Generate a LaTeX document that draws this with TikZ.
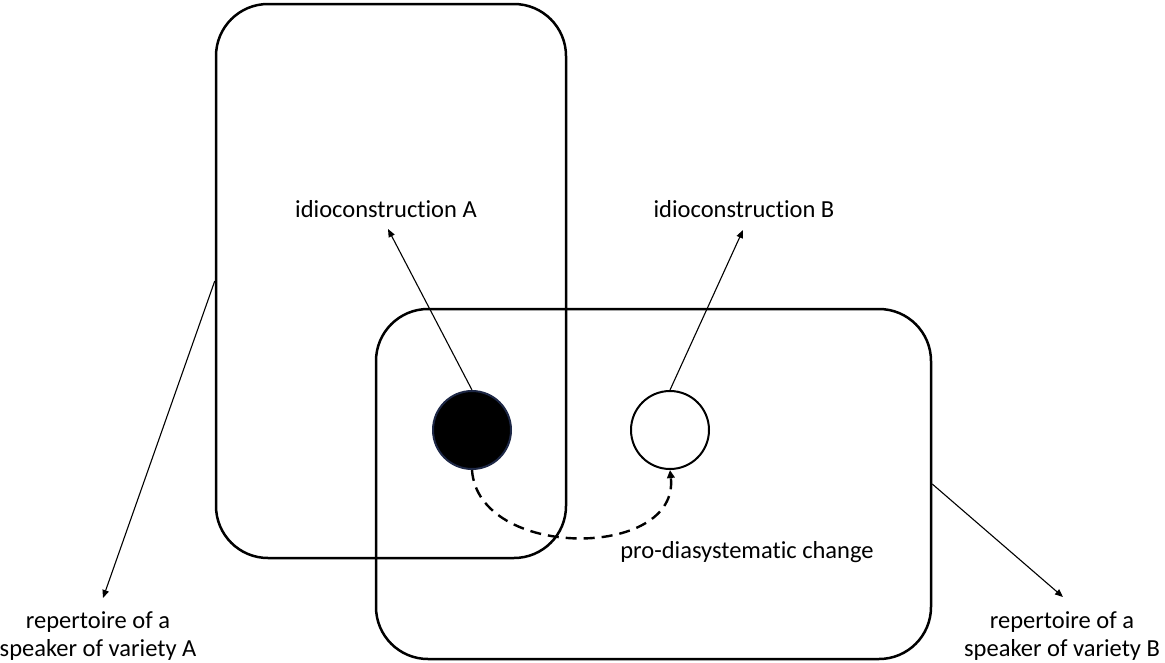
\documentclass[tikz,border=0pt]{standalone}
\usepackage{fontspec}
\setmainfont{Carlito}[Ligatures=NoCommon]
\usetikzlibrary{arrows.meta}
\definecolor{navyedge}{RGB}{30,40,70}
\begin{document}
\begin{tikzpicture}[x=1pt,y=-1pt,
  repbox/.style={draw, line width=2.5pt, rounded corners=52pt, inner sep=0pt},
  lab/.style={font=\fontsize{24.5}{28}\selectfont, align=center, inner sep=0pt},
  ptr/.style={line width=1.1pt, -{Triangle[length=8pt,width=6.5pt]}},
  dotnode/.style={circle, minimum size=78pt, inner sep=0pt, line width=2pt},
  chg/.style={line width=2.4pt, dash pattern=on 11pt off 7pt, -{Triangle[length=8pt,width=7.5pt]}}]
\useasboundingbox (0,0) rectangle (1165,662);
% repertoires
\node[repbox, minimum width=350pt, minimum height=554pt] (boxA) at (391,281) {};
\node[repbox, minimum width=555pt, minimum height=350pt] (boxB) at (653.5,484) {};
% idioconstructions
\node[dotnode, draw=navyedge, fill=black] (circA) at (472,430) {};
\node[dotnode, draw=black] (circB) at (670,430) {};
% labels
\node[lab] (labA) at (386,209) {idioconstruction A};
\node[lab] (labB) at (744,209) {idioconstruction B};
\node[lab] (labC) at (747,552) {pro-diasystematic change};
\node[lab] (labL) at (98,636) {repertoire of a\\speaker of variety A};
\node[lab] (labR) at (1062,636) {repertoire of a\\speaker of variety B};
% arrow tips
\coordinate (tipA) at (388,229);
\coordinate (tipB) at (743,230);
\coordinate (tipL) at (103,598);
\coordinate (tipR) at (1063,597);
% connectors
\draw[ptr] (circA.north) -- (tipA);
\draw[ptr] (circB.north) -- (tipB);
\draw[ptr] (boxA.west) -- (tipL);
\draw[ptr] (boxB.east) -- (tipR);
\draw[chg] (circA.south) .. controls (478,560) and (680,560) .. (circB.south);
\end{tikzpicture}
\end{document}
